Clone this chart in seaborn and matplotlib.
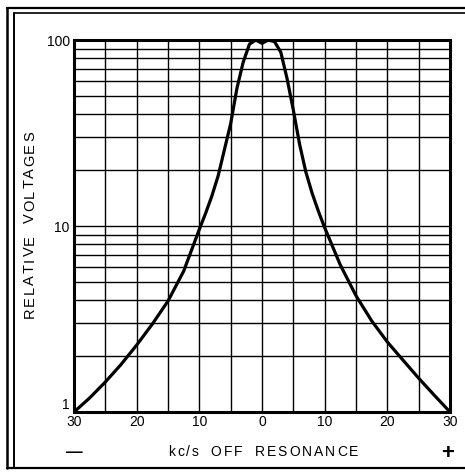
import matplotlib
matplotlib.use("Agg")
import matplotlib.pyplot as plt
from matplotlib.lines import Line2D
from matplotlib.ticker import FixedLocator, NullFormatter, FuncFormatter
import numpy as np
import pandas as pd
import seaborn as sns

# Response curve: relative voltage vs. kc/s off resonance
offset_kcs = [-30, -27.5, -25, -22.5, -20, -17.5, -15, -12.5, -10, -9, -8, -7, -6, -5, -4, -3, -2, -1, 0,
              1, 2, 3, 4, 5, 6, 7, 8, 9, 10, 12.5, 15, 17.5, 20, 22.5, 25, 27.5, 30]
relative_voltage = [1.0, 1.19, 1.45, 1.80, 2.29, 2.97, 3.95, 5.72, 9.6, 11.7, 14.5, 18.6, 25.7, 35.5, 55, 76, 95, 100, 96,
                    100, 98, 86, 62, 42, 27.5, 19.5, 15, 12, 9.8, 6.17, 4.22, 3.09, 2.38, 1.9, 1.52, 1.23, 1.0]

x_tick_values = [-30, -20, -10, 0, 10, 20, 30]
y_tick_values = [1, 10, 100]

df = pd.DataFrame({"offset": offset_kcs, "voltage": relative_voltage})

sns.set_style("white")
plt.rcParams["font.family"] = ["Liberation Sans", "DejaVu Sans"]

W, H = 465, 473
fig = plt.figure(figsize=(W / 100, H / 100), dpi=100)
ax = fig.add_axes([74 / W, 1 - 412 / H, 376 / W, 372 / H])

sns.lineplot(data=df, x="offset", y="voltage", ax=ax, color="black", lw=2.3,
             sort=False, zorder=5)

ax.set_yscale("log")
ax.set_xlim(-30, 30)
ax.set_ylim(1, 100)

ax.xaxis.set_major_locator(FixedLocator(x_tick_values))
ax.xaxis.set_minor_locator(FixedLocator(np.arange(-25, 30, 10)))
ax.xaxis.set_major_formatter(FuncFormatter(lambda v, p: f"{abs(int(v))}"))
ax.yaxis.set_major_locator(FixedLocator(y_tick_values))
ax.yaxis.set_minor_locator(FixedLocator([m * d for d in (1, 10) for m in range(2, 10)]))
ax.yaxis.set_major_formatter(FuncFormatter(lambda v, p: f"{int(v)}"))
ax.yaxis.set_minor_formatter(NullFormatter())

ax.grid(which="both", axis="both", color="black", lw=1.0)
ax.tick_params(which="both", length=0, labelsize=10, colors="black")
ax.tick_params(axis="x", pad=2)
ax.tick_params(axis="y", pad=3)
for s in ax.spines.values():
    s.set_color("black")
    s.set_linewidth(2.2)
ax.set_xlabel("")
ax.set_ylabel("")
ax.yaxis.get_major_ticks()[0].label1.set_verticalalignment("bottom")

renderer = fig.canvas.get_renderer()


def tracked_text(cx, cy, s, size, tracking, word_gap, vertical=False):
    """Draw letter-spaced text centred on (cx, cy) in pixel coords from top-left."""
    widths = []
    for ch in s:
        if ch == " ":
            widths.append(None)
            continue
        t = fig.text(0, 0, ch, fontsize=size)
        widths.append(t.get_window_extent(renderer).width)
        t.remove()
    total = 0.0
    for i, w in enumerate(widths):
        total += word_gap if w is None else w
        if i < len(widths) - 1 and w is not None and widths[i + 1] is not None:
            total += tracking
    pos = -total / 2
    for i, (ch, w) in enumerate(zip(s, widths)):
        if w is None:
            pos += word_gap
            continue
        mid = pos + w / 2
        if vertical:
            fig.text(cx / W, 1 - (cy - mid) / H, ch, fontsize=size, rotation=90,
                     ha="center", va="center", color="black")
        else:
            fig.text((cx + mid) / W, 1 - cy / H, ch, fontsize=size,
                     ha="center", va="center", color="black")
        pos += w
        if i < len(widths) - 1 and widths[i + 1] is not None:
            pos += tracking


tracked_text(30, 225, "RELATIVE VOLTAGES", 10.5, 1.8, 12, vertical=True)
tracked_text(263, 452, "kc/s OFF RESONANCE", 10, 2.0, 12)
fig.text(74 / W, 1 - 452 / H, "\u2014", ha="center", va="center", fontsize=12,
         fontweight="bold", color="black")
fig.text(448 / W, 1 - 453 / H, "+", ha="center", va="center", fontsize=16,
         fontweight="bold", color="black")


# double border around the page
def hline(y, x0, x1, lw):
    fig.add_artist(Line2D([x0 / W, x1 / W], [1 - y / H, 1 - y / H],
                          color="black", lw=lw, transform=fig.transFigure))


def vline(x, y0, y1, lw):
    fig.add_artist(Line2D([x / W, x / W], [1 - y0 / H, 1 - y1 / H],
                          color="black", lw=lw, transform=fig.transFigure))


hline(8, 7, 470, 1.6)
hline(13, 14, 470, 1.2)
hline(468, 7, 470, 1.6)
vline(7, 8, 468, 1.8)
vline(14, 13, 468, 1.4)

fig.savefig("out.png", dpi=100)
